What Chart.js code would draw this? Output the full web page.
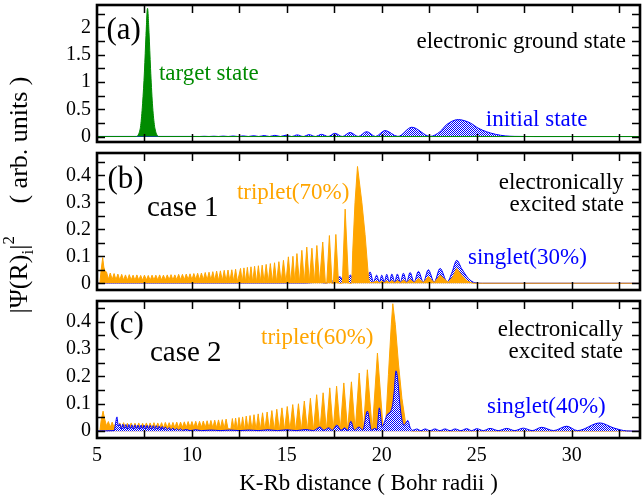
<!DOCTYPE html>
<html><head><meta charset="utf-8">
<script src="https://cdn.jsdelivr.net/npm/chart.js@4.4.0/dist/chart.umd.min.js"></script>
<style>
html,body{margin:0;padding:0;background:#fff;}
#wrap{position:relative;width:642px;height:495px;overflow:hidden;}
canvas{position:absolute;left:0;top:0;}
</style></head><body>
<div id="wrap">
<canvas id="ca" width="642" height="495"></canvas>
<canvas id="cb" width="642" height="495"></canvas>
<canvas id="cc" width="642" height="495"></canvas>
</div>
<script>
// ---------- axis values ----------
const xMin = 5, xMax = 33.6;
const xTickLabels = [5, 10, 15, 20, 25, 30];
const yTickLabelsA = [0, 0.5, 1, 1.5, 2];
const yTickLabelsBC = [0, 0.1, 0.2, 0.3, 0.4];

// ---------- panel (a): electronic ground state ----------
const targetState = [[5,0],[7.05,0],[7.2,0.05],[7.3,0.2],[7.4,0.6],[7.5,1.2],[7.58,1.85],[7.66,2.35],[7.74,1.9],[7.82,1.25],[7.92,0.6],[8.02,0.22],[8.12,0.06],[8.25,0],[33.6,0]];
const initialState = [[5,0.002],[10.0,0.002],[10.4,0.001],[10.65,0.005],[10.9,0.001],[11.15,0.006],[11.4,0.001],[11.65,0.008],[11.91,0.001],[12.17,0.01],[12.43,0.001],[12.7,0.012],[12.97,0.001],[13.25,0.015],[13.52,0.001],[13.8,0.018],[14.08,0.001],[14.37,0.022],[14.66,0.001],[14.95,0.025],[15.25,0.001],[15.55,0.03],[15.86,0.001],[16.17,0.035],[16.5,0.001],[16.83,0.04],[17.17,0.001],[17.53,0.06],[17.92,0.001],[18.33,0.074],[18.76,0.001],[19.2,0.09],[19.67,0.001],[20.17,0.11],[20.85,0.002],[21.58,0.17],[22.55,0.003],[23.07,0.09],[23.42,0.22],[24.03,0.31],[24.65,0.25],[25.1,0.15],[25.5,0.09],[26.0,0.04],[26.5,0.012],[27.0,0.003],[28.0,0],[33.6,0]];

// ---------- panel (b): case 1 ----------
const tripletB = [[5.0,0],[5.15,0],[5.22,0.05],[5.3,0.095],[5.36,0.06],[5.42,0.045],
[5.5,0.042],[5.6,0.015],[5.7,0.038],[5.8,0.014],[5.9,0.036],[6.0,0.013],[6.1,0.034],[6.2,0.012],[6.3,0.033],[6.4,0.012],[6.5,0.031],[6.6,0.011],[6.7,0.032],[6.8,0.012],[6.9,0.030],[7.0,0.011],[7.1,0.031],[7.2,0.012],[7.3,0.029],[7.4,0.011],[7.5,0.030],[7.6,0.012],[7.7,0.029],[7.8,0.011],[7.9,0.030],[8.0,0.012],[8.1,0.030],[8.2,0.012],[8.3,0.031],[8.4,0.012],[8.5,0.030],[8.6,0.012],[8.7,0.031],[8.8,0.013],[8.9,0.032],[9.0,0.012],[9.1,0.031],[9.2,0.013],[9.3,0.033],[9.4,0.013],[9.5,0.033],[9.6,0.013],[9.7,0.034],[9.8,0.014],[9.9,0.035],[10.0,0.013],[10.1,0.036],[10.2,0.014],[10.3,0.037],[10.4,0.013],[10.5,0.038],[10.6,0.013],[10.7,0.040],[10.8,0.012],[10.9,0.041],[11.0,0.012],[11.1,0.043],[11.2,0.011],[11.3,0.045],[11.4,0.010],[11.5,0.046],[11.6,0.009],[11.7,0.048],[11.8,0.008],[11.9,0.049],[12.0,0.007],[12.1,0.050],[12.2,0.006],[12.3,0.052],[12.4,0.005],
[12.56,0.055],[12.65,0.004],[12.74,0.057],[12.83,0.004],[12.92,0.059],[13.01,0.003],[13.11,0.061],[13.2,0.003],[13.3,0.063],[13.4,0.003],[13.5,0.065],[13.6,0.003],[13.7,0.067],[13.8,0.003],[13.91,0.07],[14.02,0.003],[14.13,0.073],[14.24,0.003],[14.35,0.076],[14.46,0.003],[14.58,0.08],[14.7,0.002],[14.82,0.085],[14.95,0.002],[15.08,0.098],[15.2,0.002],[15.32,0.1],[15.42,0.002],[15.53,0.11],[15.66,0.002],[15.79,0.122],[15.92,0.002],[16.05,0.134],[16.18,0.002],[16.32,0.13],[16.45,0.002],[16.58,0.14],[16.72,0.002],[16.89,0.153],[17.03,0],[17.1,0],[17.24,0.177],[17.38,0],[17.45,0],[17.58,0.181],[17.72,0],[17.92,0],[18.07,0.275],[18.25,0],[18.42,0],[18.47,0.12],[18.59,0.3],[18.72,0.433],[18.95,0.3],[19.12,0.18],[19.3,0.02],[19.36,0.003],
[19.55,0.003],[19.73,0.008],[19.87,0.002],[20.0,0.008],[20.13,0.002],[20.26,0.009],[20.4,0.002],[20.53,0.01],[20.68,0.002],[20.82,0.011],[20.98,0.002],[21.14,0.012],[21.31,0.002],[21.49,0.014],[21.7,0.002],[21.93,0.018],[22.19,0.002],[22.45,0.025],[22.76,0.002],[23.07,0.03],[23.5,0.003],[23.75,0.025],[23.95,0.055],[24.2,0.03],[24.5,0.008],[24.8,0],[33.6,0]];
const singletB = [[5,0.001],[16.0,0.001],[16.7,0.004],[17.0,0.001],[17.4,0.008],[17.8,0.024],[18.05,0.003],[18.35,0.03],[18.6,0.004],[19.0,0.01],[19.2,0.004],[19.38,0.042],[19.56,0.004],[19.73,0.03],[19.87,0.004],[20.0,0.03],[20.13,0.004],[20.26,0.033],[20.4,0.004],[20.53,0.034],[20.68,0.004],[20.82,0.034],[20.98,0.004],[21.14,0.037],[21.31,0.004],[21.49,0.04],[21.7,0.004],[21.93,0.044],[22.19,0.004],[22.45,0.05],[22.76,0.004],[23.07,0.055],[23.45,0.005],[23.68,0.037],[23.95,0.085],[24.2,0.055],[24.56,0.018],[24.9,0.002],[25.3,0],[33.6,0]];

// ---------- panel (c): case 2 ----------
const tripletC = [[5.0,0],[5.15,0],[5.22,0.04],[5.32,0.073],[5.4,0.045],[5.5,0.02],
[5.6,0.035],[5.7,0.014],[5.8,0.033],[5.9,0.013],[6.0,0.032],[6.1,0.012],[6.2,0.030],[6.3,0.012],[6.4,0.031],[6.5,0.011],[6.6,0.029],[6.7,0.012],[6.8,0.030],[6.9,0.011],[7.0,0.029],[7.1,0.012],[7.2,0.030],[7.3,0.011],[7.4,0.029],[7.5,0.012],[7.6,0.030],[7.7,0.012],[7.8,0.030],[7.9,0.012],[8.0,0.031],[8.1,0.012],[8.2,0.030],[8.3,0.013],[8.4,0.031],[8.5,0.012],[8.6,0.032],[8.7,0.013],[8.8,0.031],[8.9,0.013],[9.0,0.032],[9.1,0.013],[9.2,0.033],[9.3,0.013],[9.4,0.033],[9.5,0.014],[9.6,0.034],[9.7,0.013],[9.8,0.035],[9.9,0.014],[10.0,0.035],[10.1,0.014],[10.2,0.036],[10.3,0.013],[10.4,0.036],[10.5,0.014],[10.6,0.037],[10.7,0.013],[10.8,0.038],[10.9,0.013],[11.0,0.039],[11.1,0.012],[11.2,0.040],[11.3,0.012],[11.4,0.041],[11.5,0.011],[11.6,0.042],[11.7,0.010],[11.8,0.044],[11.9,0.009],
[12.05,0.008],[12.13,0.046],[12.22,0.006],[12.3,0.048],[12.39,0.005],[12.48,0.05],[12.58,0.005],[12.67,0.052],[12.77,0.004],[12.86,0.055],[12.96,0.004],[13.06,0.057],[13.17,0.004],[13.27,0.06],[13.38,0.004],[13.49,0.063],[13.6,0.004],[13.72,0.067],[13.84,0.004],[13.96,0.07],[14.08,0.003],[14.21,0.075],[14.34,0.003],[14.47,0.08],[14.6,0.003],[14.74,0.085],[14.88,0.003],[15.02,0.09],[15.16,0.003],[15.31,0.097],[15.46,0.002],[15.61,0.1],[15.76,0.002],[15.92,0.11],[16.08,0.002],[16.24,0.12],[16.4,0.002],[16.57,0.133],[16.74,0.002],[16.91,0.14],[17.08,0.002],[17.26,0.158],[17.44,0.002],[17.62,0.164],[17.81,0.002],[18.0,0.176],[18.2,0.002],[18.4,0.18],[18.6,0.002],[18.81,0.212],[19.03,0.002],[19.24,0.224],[19.5,0.002],[19.77,0.285],[20.08,0.002],[20.2,0.02],[20.35,0.206],[20.5,0.388],[20.58,0.465],[20.71,0.39],[20.88,0.245],[21.06,0.12],[21.24,0.036],[21.41,0.006],[21.6,0],[33.6,0]];
const singletC = [[5,0.001],[5.9,0.002],[5.98,0.03],[6.05,0.052],[6.12,0.02],
[6.2,0.026],[6.28,0.008],[6.36,0.025],[6.44,0.008],[6.52,0.024],[6.6,0.008],[6.68,0.024],[6.76,0.008],[6.84,0.023],[6.92,0.008],[7.0,0.023],[7.08,0.008],[7.16,0.022],[7.24,0.008],[7.32,0.022],[7.4,0.008],[7.48,0.022],[7.56,0.008],[7.64,0.021],[7.72,0.007],[7.8,0.021],[7.88,0.007],[7.96,0.02],[8.04,0.007],[8.12,0.02],[8.2,0.006],[8.28,0.019],[8.36,0.006],[8.44,0.017],[8.52,0.005],[8.6,0.015],[8.7,0.005],[8.8,0.013],[8.9,0.004],[9.0,0.011],[9.1,0.004],[9.2,0.009],[9.3,0.003],[9.4,0.008],[9.5,0.003],[9.7,0.006],[9.9,0.002],[10.2,0.005],[10.5,0.002],[11.0,0.004],[11.5,0.002],[12.0,0.004],[12.5,0.002],[13.0,0.004],[13.5,0.002],[14.0,0.005],[14.5,0.002],[15.0,0.005],[15.5,0.002],[16.0,0.006],[16.4,0.002],[16.75,0.015],[16.95,0.003],[17.2,0.012],[17.4,0.003],[17.63,0.022],[17.85,0.003],[18.05,0.012],[18.2,0.003],[18.37,0.036],[18.55,0.003],[18.8,0.015],[19.0,0.003],[19.24,0.073],[19.45,0.004],[19.65,0.01],[19.75,0.005],[19.87,0.085],[20.02,0.015],[20.15,0.035],[20.3,0.062],[20.45,0.07],[20.58,0.1],[20.66,0.15],[20.75,0.22],[20.85,0.18],[20.95,0.1],[21.05,0.045],[21.18,0.022],[21.37,0.039],[21.5,0.012],[21.62,0.003],
[21.84,0.008],[22.06,0.002],[22.28,0.008],[22.54,0.002],[22.8,0.008],[23.06,0.002],[23.33,0.008],[23.6,0.002],[23.86,0.008],[24.16,0.002],[24.47,0.009],[24.73,0.002],[25.0,0.009],[25.35,0.002],[25.7,0.01],[26.14,0.002],[26.58,0.01],[27.0,0.002],[27.45,0.011],[27.93,0.002],[28.42,0.014],[29.05,0.002],[29.74,0.018],[30.3,0.002],[31.49,0.03],[32.2,0.012],[32.9,0.001],[33.6,0]];

// ---------- styling ----------
const FONT = '"Liberation Serif", "Times New Roman", serif';
const GREEN = 'rgb(0,139,0)', BLUE = '#0000ff', ORANGE = '#ffa500';
const pts = arr => arr.map(([x, y]) => ({x, y}));

function hatchFor(canvasId) {
  const c = document.createElement('canvas'); c.width = 2; c.height = 2;
  const g = c.getContext('2d');
  g.fillStyle = '#ffffff'; g.fillRect(0, 0, 2, 2);
  g.fillStyle = BLUE; g.fillRect(0, 0, 1, 1); g.fillRect(1, 1, 1, 1);
  return document.getElementById(canvasId).getContext('2d').createPattern(c, 'repeat');
}

const framePlugin = {
  id: 'frame',
  afterDatasetsDraw(chart, args, o) {
    const {ctx, chartArea: a, scales: {x, y}} = chart;
    ctx.save();
    ctx.strokeStyle = '#000';
    ctx.lineWidth = 1.5;
    ctx.beginPath();
    for (let k = 1; xMin + 2.5 * k < xMax; k++) {
      const px = Math.round(x.getPixelForValue(xMin + 2.5 * k)) + 0.5;
      ctx.moveTo(px, a.bottom); ctx.lineTo(px, a.bottom - 8);
      ctx.moveTo(px, a.top); ctx.lineTo(px, a.top + 8);
    }
    for (let k = 0; k * o.yStep < y.max; k++) {
      const py = Math.round(y.getPixelForValue(k * o.yStep)) + 0.5;
      ctx.moveTo(a.left, py); ctx.lineTo(a.left + 8, py);
      ctx.moveTo(a.right, py); ctx.lineTo(a.right - 8, py);
    }
    ctx.stroke();
    ctx.lineWidth = 2.6;
    ctx.strokeRect(a.left, a.top, a.right - a.left, a.bottom - a.top);
    ctx.restore();
  },
  afterDraw(chart, args, o) {
    const {ctx, scales: {x, y}} = chart;
    ctx.save();
    ctx.textBaseline = 'middle';
    for (const n of (o.notes || [])) {
      ctx.font = n.size + 'px ' + FONT;
      ctx.fillStyle = n.color;
      ctx.textAlign = n.align || 'left';
      ctx.fillText(n.text, x.getPixelForValue(n.x), y.getPixelForValue(n.y));
    }
    ctx.restore();
    if (o.ytitle) {
      const t = o.ytitle;
      ctx.save();
      ctx.translate(t.x, t.y);
      ctx.rotate(-Math.PI / 2);
      ctx.fillStyle = '#000';
      ctx.textBaseline = 'alphabetic';
      ctx.textAlign = 'left';
      let total = 0;
      for (const p of t.parts) { ctx.font = p.size + 'px ' + FONT; p.w = ctx.measureText(p.t).width; total += p.w; }
      let cx = -total / 2;
      for (const p of t.parts) { ctx.font = p.size + 'px ' + FONT; ctx.fillText(p.t, cx, p.dy); cx += p.w; }
      ctx.restore();
    }
  }
};

function makeChart(id, datasets, cfg) {
  const showX = !!cfg.showX;
  return new Chart(document.getElementById(id), {
    type: 'line',
    data: { datasets },
    plugins: [framePlugin],
    options: {
      responsive: false, animation: false, devicePixelRatio: 1, events: [],
      layout: { padding: { left: 0, right: 2, top: cfg.top, bottom: showX ? 0 : 495 - cfg.bottom } },
      elements: { point: { radius: 0 }, line: { borderWidth: 1 } },
      plugins: {
        legend: { display: false }, tooltip: { enabled: false },
        frame: { yStep: cfg.yStep, notes: cfg.notes, ytitle: cfg.ytitle }
      },
      scales: {
        x: {
          type: 'linear', min: xMin, max: xMax, display: showX,
          grid: { display: false, drawTicks: false }, border: { display: false },
          afterBuildTicks: s => { s.ticks = xTickLabels.map(v => ({ value: v })); },
          afterFit: s => { if (showX) s.height = 495 - cfg.bottom; s.paddingLeft = 0; s.paddingRight = 0; },
          ticks: { autoSkip: false, maxRotation: 0, padding: 6, color: '#000',
                   font: { family: FONT, size: 20 }, callback: v => String(v) },
          title: { display: showX, text: 'K-Rb distance ( Bohr radii )', color: '#000',
                   font: { family: FONT, size: 23, lineHeight: 1.0 }, padding: { top: 0, bottom: 0 } }
        },
        y: {
          type: 'linear', min: cfg.yMin, max: cfg.yMax,
          grid: { display: false, drawTicks: false }, border: { display: false },
          afterBuildTicks: s => { s.ticks = cfg.yLabels.map(v => ({ value: v })); },
          afterFit: s => { s.width = 97; s.paddingTop = 0; s.paddingBottom = 0; },
          ticks: { autoSkip: false, padding: 6, color: '#000',
                   font: { family: FONT, size: 20 }, callback: v => String(v) }
        }
      }
    }
  });
}

// panel (a)
makeChart('ca', [
  { data: pts(targetState), borderColor: GREEN, backgroundColor: GREEN, fill: 'origin', order: 0, cubicInterpolationMode: 'monotone' },
  { data: pts(initialState), borderColor: BLUE, backgroundColor: hatchFor('ca'), fill: 'origin', order: 1, cubicInterpolationMode: 'monotone' }
], { top: 5, bottom: 142, yMin: -0.1, yMax: 2.41, yLabels: yTickLabelsA, yStep: 0.25,
  notes: [
    { text: '(a)', x: 5.5, y: 1.93, size: 31, color: '#000' },
    { text: 'target state', x: 8.26, y: 1.146, size: 23, color: GREEN },
    { text: 'electronic ground state', x: 32.86, y: 1.73, size: 23, color: '#000', align: 'right' },
    { text: 'initial state', x: 25.48, y: 0.30, size: 23, color: BLUE }
  ] });

// panel (b)
makeChart('cb', [
  { data: pts(tripletB), borderColor: ORANGE, backgroundColor: ORANGE, fill: 'origin', order: 0 },
  { data: pts(singletB), borderColor: BLUE, backgroundColor: hatchFor('cb'), fill: 'origin', order: 1, cubicInterpolationMode: 'monotone' }
], { top: 153, bottom: 290, yMin: -0.025, yMax: 0.483, yLabels: yTickLabelsBC, yStep: 0.05,
  notes: [
    { text: '(b)', x: 5.55, y: 0.383, size: 31, color: '#000' },
    { text: 'case 1', x: 7.63, y: 0.279, size: 29, color: '#000' },
    { text: 'triplet(70%)', x: 12.37, y: 0.335, size: 23, color: ORANGE },
    { text: 'electronically', x: 32.75, y: 0.372, size: 23, color: '#000', align: 'right' },
    { text: 'excited state', x: 32.75, y: 0.29, size: 23, color: '#000', align: 'right' },
    { text: 'singlet(30%)', x: 24.54, y: 0.094, size: 23, color: BLUE }
  ],
  ytitle: { x: 27, y: 195, parts: [
    { t: '|Ψ(R)', size: 26, dy: 0 }, { t: 'i', size: 17, dy: 6 }, { t: '|', size: 26, dy: 0 },
    { t: '2', size: 17, dy: -13 }, { t: '     ( arb. units )', size: 26, dy: 0 }
  ] } });

// panel (c)
makeChart('cc', [
  { data: pts(singletC), borderColor: BLUE, backgroundColor: hatchFor('cc'), fill: 'origin', order: 0, cubicInterpolationMode: 'monotone' },
  { data: pts(tripletC), borderColor: ORANGE, backgroundColor: ORANGE, fill: 'origin', order: 1 }
], { top: 301, bottom: 438, showX: true, yMin: -0.025, yMax: 0.475, yLabels: yTickLabelsBC, yStep: 0.05,
  notes: [
    { text: '(c)', x: 5.65, y: 0.387, size: 31, color: '#000' },
    { text: 'case 2', x: 7.79, y: 0.285, size: 29, color: '#000' },
    { text: 'triplet(60%)', x: 13.64, y: 0.34, size: 23, color: ORANGE },
    { text: 'electronically', x: 32.7, y: 0.369, size: 23, color: '#000', align: 'right' },
    { text: 'excited state', x: 32.7, y: 0.289, size: 23, color: '#000', align: 'right' },
    { text: 'singlet(40%)', x: 25.54, y: 0.088, size: 23, color: BLUE }
  ] });
</script>
</body></html>
